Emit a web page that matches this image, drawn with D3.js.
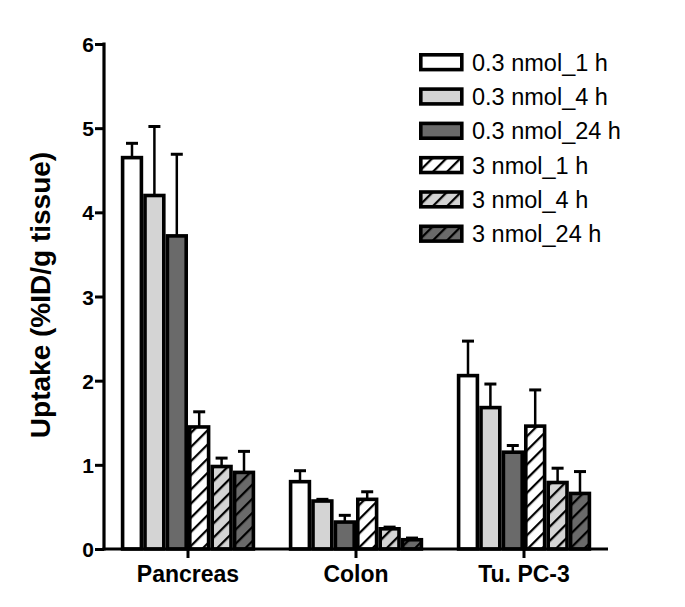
<!DOCTYPE html>
<html>
<head>
<meta charset="utf-8">
<script src="https://cdn.jsdelivr.net/npm/d3@7"></script>
<style>
  body { margin: 0; background: #fff; }
  text { font-family: "Liberation Sans", Arial, sans-serif; }
</style>
</head>
<body>
<div id="chart"></div>
<script>
//////////////////////// Data ////////////////////////
var categories = ["Pancreas", "Colon", "Tu. PC-3"];
var seriesNames = ["0.3 nmol_1 h", "0.3 nmol_4 h", "0.3 nmol_24 h", "3 nmol_1 h", "3 nmol_4 h", "3 nmol_24 h"];
var meanPancreas = [4.65, 4.20, 3.72, 1.45, 0.98, 0.91];
var errPancreas  = [0.17, 0.82, 0.97, 0.18, 0.10, 0.25];
var meanColon    = [0.80, 0.57, 0.32, 0.59, 0.24, 0.11];
var errColon     = [0.13, 0.02, 0.08, 0.09, 0.02, 0.02];
var meanTu       = [2.06, 1.68, 1.15, 1.46, 0.79, 0.66];
var errTu        = [0.41, 0.28, 0.08, 0.43, 0.17, 0.26];
var yTicks = [0, 1, 2, 3, 4, 5, 6];

var means = [meanPancreas, meanColon, meanTu];
var errs = [errPancreas, errColon, errTu];

//////////////////////// Set-Up ////////////////////////
var W = 685, H = 607;
var fills = ["#ffffff", "#d4d4d4", "#6a6a6a", "#ffffff", "#d4d4d4", "#6a6a6a"];
var hatched = [false, false, false, true, true, true];

var svg = d3.select("#chart").append("svg")
  .attr("width", W).attr("height", H);

var x0 = d3.scaleBand().domain(categories).range([104, 608])
  .paddingInner(0.2).paddingOuter(0.1);
var x1 = d3.scaleBand().domain(d3.range(seriesNames.length)).range([0, x0.bandwidth()]);
var y = d3.scaleLinear().domain([0, 6]).range([549, 44]);

//hatch patterns
var defs = svg.append("defs");
fills.forEach(function(c, i) {
  if (!hatched[i]) return;
  var p = defs.append("pattern")
    .attr("id", "hatch" + i)
    .attr("patternUnits", "userSpaceOnUse")
    .attr("width", 10).attr("height", 10)
    .attr("patternTransform", "rotate(45)");
  p.append("rect").attr("width", 10).attr("height", 10).attr("fill", c);
  p.append("line").attr("x1", 0).attr("y1", 0).attr("x2", 0).attr("y2", 10)
    .attr("stroke", "#000").attr("stroke-width", 4.5);
});
function fillOf(i) { return hatched[i] ? "url(#hatch" + i + ")" : fills[i]; }

//////////////////////// Bars ////////////////////////
var rows = [];
categories.forEach(function(c, ci) {
  seriesNames.forEach(function(s, si) {
    rows.push({ cat: c, s: si, v: means[ci][si], e: errs[ci][si] });
  });
});

var g = svg.append("g");

//error bars first (behind bar tops)
var eb = g.selectAll("g.err").data(rows).enter().append("g").attr("class", "err");
eb.append("line")
  .attr("x1", function(d) { return x0(d.cat) + x1(d.s) + x1.bandwidth() / 2; })
  .attr("x2", function(d) { return x0(d.cat) + x1(d.s) + x1.bandwidth() / 2; })
  .attr("y1", function(d) { return y(d.v); })
  .attr("y2", function(d) { return y(d.v + d.e); })
  .attr("stroke", "#000").attr("stroke-width", 2.5);
eb.append("line")
  .attr("x1", function(d) { return x0(d.cat) + x1(d.s) + x1.bandwidth() / 2 - 6; })
  .attr("x2", function(d) { return x0(d.cat) + x1(d.s) + x1.bandwidth() / 2 + 6; })
  .attr("y1", function(d) { return y(d.v + d.e); })
  .attr("y2", function(d) { return y(d.v + d.e); })
  .attr("stroke", "#000").attr("stroke-width", 3);

g.selectAll("rect.bar").data(rows).enter().append("rect")
  .attr("class", "bar")
  .attr("x", function(d) { return x0(d.cat) + x1(d.s) + 1.8; })
  .attr("width", x1.bandwidth() - 3.6)
  .attr("y", function(d) { return y(d.v); })
  .attr("height", function(d) { return y(0) - y(d.v); })
  .attr("fill", function(d) { return fillOf(d.s); })
  .attr("stroke", "#000").attr("stroke-width", 3.6);

//////////////////////// Axes ////////////////////////
var yAxis = svg.append("g").attr("transform", "translate(104,0)")
  .call(d3.axisLeft(y).tickValues(yTicks).tickSize(9).tickFormat(d3.format("d")))
  .attr("font-family", null);
yAxis.select(".domain").attr("stroke-width", 3.2).attr("d", "M0," + (y(6) - 1.5) + "V" + (y(0) + 1.5));
yAxis.selectAll(".tick line").attr("stroke-width", 3);
yAxis.selectAll(".tick text")
  .style("font-size", "21px").style("font-weight", "bold").attr("x", -10).attr("dy", "0.36em");

var xAxis = svg.append("g").attr("transform", "translate(0," + y(0) + ")")
  .call(d3.axisBottom(x0).tickSize(9).tickSizeOuter(0))
  .attr("font-family", null);
xAxis.select(".domain").attr("stroke-width", 3.2).attr("d", "M102.5,0H608");
xAxis.selectAll(".tick line").attr("stroke-width", 3);
xAxis.selectAll(".tick text")
  .style("font-size", "23px").style("font-weight", "bold").attr("y", 17).attr("dy", "0.71em");

svg.append("text")
  .attr("transform", "translate(50,295) rotate(-90)")
  .attr("text-anchor", "middle")
  .style("font-size", "28px").style("font-weight", "bold")
  .text("Uptake (%ID/g tissue)");

//////////////////////// Legend ////////////////////////
var leg = svg.append("g").attr("transform", "translate(419,53)");
var li = leg.selectAll("g").data(seriesNames).enter().append("g")
  .attr("transform", function(d, i) { return "translate(0," + (i * 34.3) + ")"; });
li.append("rect")
  .attr("x", 1.8).attr("y", 1.8).attr("width", 41).attr("height", 14.8)
  .attr("fill", function(d, i) { return fillOf(i); })
  .attr("stroke", "#000").attr("stroke-width", 3.6);
li.append("text")
  .attr("x", 53).attr("y", 9.2).attr("dy", "0.36em")
  .style("font-size", "23.5px")
  .text(function(d) { return d; });
</script>
</body>
</html>
